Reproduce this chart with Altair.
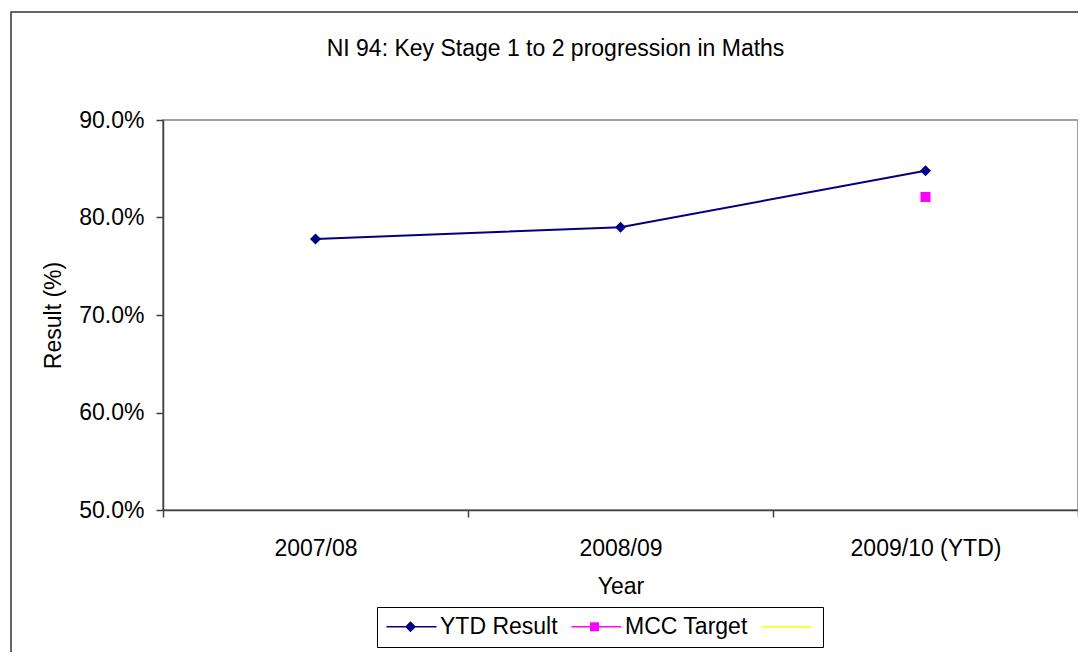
import altair as alt
import pandas as pd

# ---- data ----
years = ["2007/08", "2008/09", "2009/10 (YTD)"]
ytd_result = [0.778, 0.790, 0.848]
target_years = ["2009/10 (YTD)"]
mcc_target = [0.821]
series_names = ["YTD Result", "MCC Target", " "]
series_colors = ["#000080", "#FF00FF", "#FFFF00"]
y_ticks = [0.5, 0.6, 0.7, 0.8, 0.9]

FONT = "Liberation Sans"
FS = 23

ytd_df = pd.DataFrame({"Year": years, "Value": ytd_result})
tgt_df = pd.DataFrame({"Year": target_years, "Value": mcc_target})
leg_df = pd.DataFrame({"Series": series_names})

# legend symbol paths (unit = 10px): line segment + marker
legend_shapes = [
    "M-1,-0.08H4V0.08H-1ZM1.4,-0.55L1.95,0L1.4,0.55L0.85,0Z",
    "M-1,-0.08H4V0.08H-1ZM0.85,-0.45H1.75V0.45H0.85Z",
    "M-1,-0.08H4V0.08H-1Z",
]

x_enc = alt.X(
    "Year:N",
    sort=years,
    bandPosition=0.5,
    scale=alt.Scale(type="band", domain=years, paddingInner=0, paddingOuter=0),
    axis=alt.Axis(
        title="Year",
        tickBand="extent",
        labelAngle=0,
        labelPadding=20,
        titlePadding=15,
    ),
)
y_enc = alt.Y(
    "Value:Q",
    scale=alt.Scale(domain=[0.5, 0.9], nice=False, zero=False),
    axis=alt.Axis(
        title="Result (%)",
        format=".1%",
        values=y_ticks,
        labelPadding=12,
        titlePadding=13,
        grid=False,
    ),
)

line = alt.Chart(ytd_df).mark_line(color="#000080", strokeWidth=2).encode(x=x_enc, y=y_enc)
pts = alt.Chart(ytd_df).mark_point(
    shape="diamond", filled=True, color="#000080", size=121, opacity=1
).encode(x=x_enc, y=y_enc)
tgt = alt.Chart(tgt_df).mark_point(
    shape="square", filled=True, color="#FF00FF", size=100, opacity=1
).encode(x=x_enc, y=y_enc)

leg = alt.Legend(
    title=None,
    orient="none",
    legendX=214,
    legendY=487,
    direction="horizontal",
    columns=3,
    strokeColor="#000000",
    padding=8,
    symbolSize=400,
    symbolStrokeWidth=0,
    labelFontSize=FS,
    labelFont=FONT,
    labelColor="#000000",
    labelOffset=32,
    columnPadding=12,
    fillColor="#ffffff",
)

legend_layer = (
    alt.Chart(leg_df)
    .transform_filter("false")
    .mark_point(filled=True, opacity=1)
    .encode(
        color=alt.Color(
            "Series:N",
            scale=alt.Scale(domain=series_names, range=series_colors),
            legend=leg,
        ),
        shape=alt.Shape(
            "Series:N",
            scale=alt.Scale(domain=series_names, range=legend_shapes),
            legend=leg,
        ),
    )
)

border = alt.Chart(pd.DataFrame({"a": [0]})).mark_rect(
    fillOpacity=0, stroke="#333333", strokeWidth=1.5
).encode(
    x=alt.value(-152), x2=alt.value(923), y=alt.value(-108), y2=alt.value(550)
)

chart = (
    alt.layer(border, line, pts, tgt, legend_layer)
    .properties(
        width=915,
        height=390,
        padding={"left": 155, "top": 112, "right": 0, "bottom": 142},
        autosize=alt.AutoSizeParams(type="none"),
        title=alt.TitleParams(
            text="NI 94: Key Stage 1 to 2 progression in Maths",
            font=FONT,
            fontSize=FS,
            fontWeight="normal",
            color="#000000",
            anchor="middle",
            frame="group",
            baseline="alphabetic",
            dx=-65,
            offset=-68,
        ),
    )
    .configure_view(stroke="#a0a0a0", strokeWidth=2)
    .configure_axis(
        labelFont=FONT,
        labelFontSize=FS,
        labelColor="#000000",
        titleFont=FONT,
        titleFontSize=FS,
        titleFontWeight="normal",
        titleColor="#000000",
        domainColor="#404040",
        domainWidth=1.5,
        tickColor="#404040",
        tickWidth=1.5,
        tickSize=7,
    )
)

chart.save("out.html", embed_options={"renderer": "svg", "actions": False})
